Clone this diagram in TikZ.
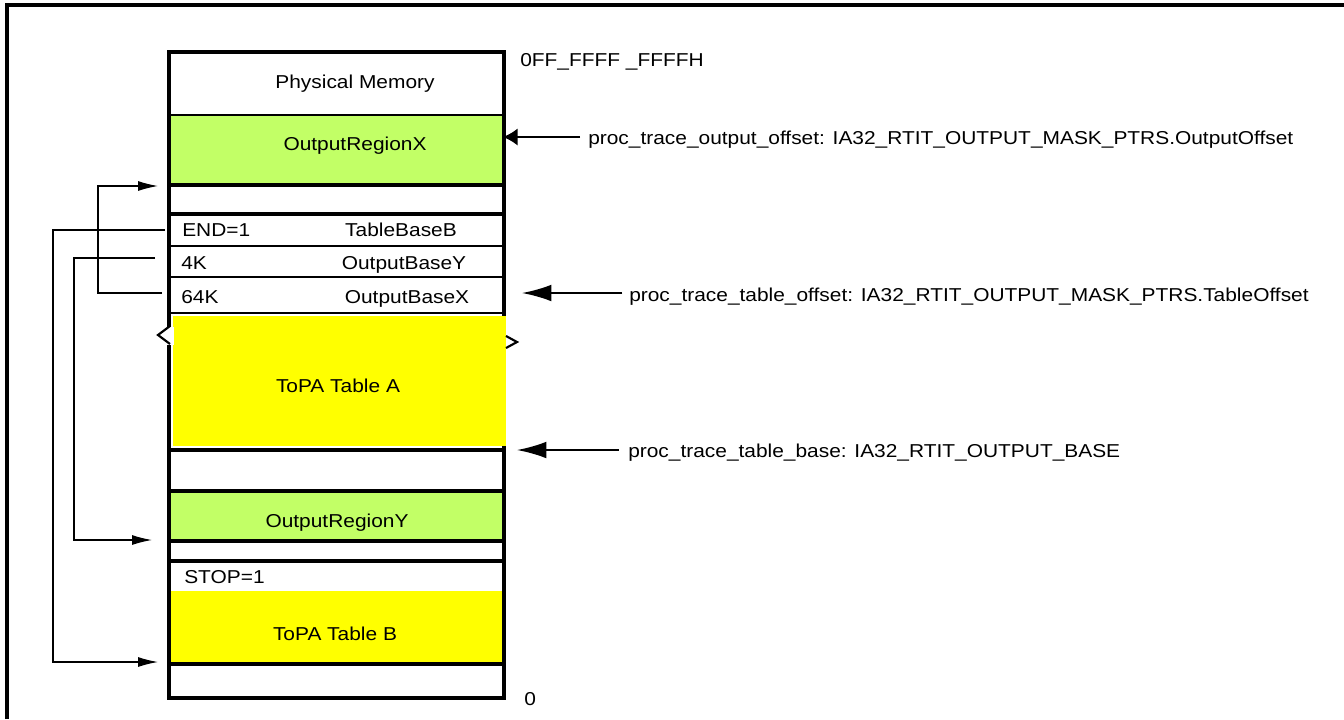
\documentclass[tikz,border=0pt]{standalone}
\usepackage{fontspec}
\setmainfont{Liberation Sans}[FakeStretch=1.12]
\usetikzlibrary{arrows.meta}
\usetikzlibrary{positioning}
\tikzset{memline/.style = {line width = 2.6pt}}
\tikzset{rowline/.style = {line width = 1pt}}
\tikzset{lbl/.style = {inner sep = 0, text height = 10pt, text depth = 3pt, yshift = -2.2pt}}
\tikzset{ptr/.style = {line width = 1.4pt, -{Latex[length = 22pt, width = 12.5pt]}}}
\tikzset{link/.style = {line width = 0.9pt, -{Latex[length = 15pt, width = 7.5pt]}}}
\definecolor{mgreen}{rgb}{0.76, 1, 0.4}
\definecolor{myellow}{rgb}{1, 1, 0}

\begin{document}
\begin{tikzpicture}[x=0.75pt, y=-0.75pt, font=\fontsize{14}{16}\selectfont]
      \useasboundingbox (0, 0) rectangle (1344, 719);
      \draw [line width = 3pt] (7, 719) -- (7, 5) -- (1344, 5);
      % memory column
      \fill [mgreen] (169, 115) rectangle (504, 183);
      \fill [mgreen] (169, 491) rectangle (504, 541);
      \fill [myellow] (169, 591) rectangle (504, 663);
      \draw [memline] (169, 52) rectangle (504, 698);
      \draw [rowline] (169, 115) -- (504, 115);
      \foreach \y in {185, 214, 450, 491, 541, 561, 664} {
        \draw [memline] (169, \y) -- (504, \y);
      }
      \foreach \y in {246, 277, 313} {
        \draw [rowline] (169, \y) -- (504, \y);
      }
      \fill [myellow] (173, 316) rectangle (506, 446);
      % break marks
      \fill [white] (164, 327) rectangle (174, 345);
      \draw [line width = 1.6pt] (170, 326) -- (158, 335) -- (170, 344);
      \draw [line width = 1.6pt] (506, 336) -- (517, 342) -- (506, 348);
      % texts in the column
      \node [lbl] (phys) at (355, 81) {Physical Memory};
      \node [lbl] (regx) at (355, 143) {OutputRegionX};
      \node [lbl, anchor = west] (endb) at (182, 229) {END=1};
      \node [lbl] (tbb) at (401, 229) {TableBaseB};
      \node [lbl, anchor = west] (k4) at (181, 262) {4K};
      \node [lbl] (oby) at (404, 262) {OutputBaseY};
      \node [lbl, anchor = west] (k64) at (181, 296) {64K};
      \node [lbl] (obx) at (407, 296) {OutputBaseX};
      \node [lbl] (topaa) at (338, 385) {ToPA Table A};
      \node [lbl] (regy) at (337, 520) {OutputRegionY};
      \node [lbl, anchor = west] (stop) at (184, 576) {STOP=1};
      \node [lbl] (topab) at (335, 633) {ToPA Table B};
      \node [lbl, anchor = west] (hiaddr) at (520, 59) {0FF\_FFFF \_FFFFH};
      \node [lbl, anchor = west] (loaddr) at (524, 698) {0};
      % pointers from the right
      \node [lbl, anchor = west] (outoff) at (588, 137) {proc\_trace\_output\_offset: IA32\_RTIT\_OUTPUT\_MASK\_PTRS.OutputOffset};
      \node [lbl, anchor = west] (taboff) at (629, 294) {proc\_trace\_table\_offset: IA32\_RTIT\_OUTPUT\_MASK\_PTRS.TableOffset};
      \node [lbl, anchor = west] (tabbase) at (628, 450) {proc\_trace\_table\_base: IA32\_RTIT\_OUTPUT\_BASE};
      \coordinate (outofftip) at (503, 137);
      \coordinate (tabofftip) at (522, 293);
      \coordinate (tabbasetip) at (517, 450);
      \draw [line width = 1.4pt, -{Latex[length = 11pt, width = 13pt]}] ([xshift = -6pt] outoff.west |- outofftip) -- (outofftip);
      \draw [ptr] ([xshift = -5pt] taboff.west |- tabofftip) -- (tabofftip);
      \draw [ptr] ([xshift = -7pt] tabbase.west |- tabbasetip) -- (tabbasetip);
      % links from the table entries
      \coordinate (k64out) at (162, 293);
      \coordinate (k4out) at (155, 258);
      \coordinate (endout) at (165, 230);
      \coordinate (regxin) at (158, 186);
      \coordinate (regyin) at (152, 540);
      \coordinate (topabin) at (158, 662);
      \draw [link] (k64out) -- ++(-64, 0) |- (regxin);
      \draw [link] (k4out) -- ++(-81, 0) |- (regyin);
      \draw [link] (endout) -- ++(-112, 0) |- (topabin);
    \end{tikzpicture}
\end{document}
